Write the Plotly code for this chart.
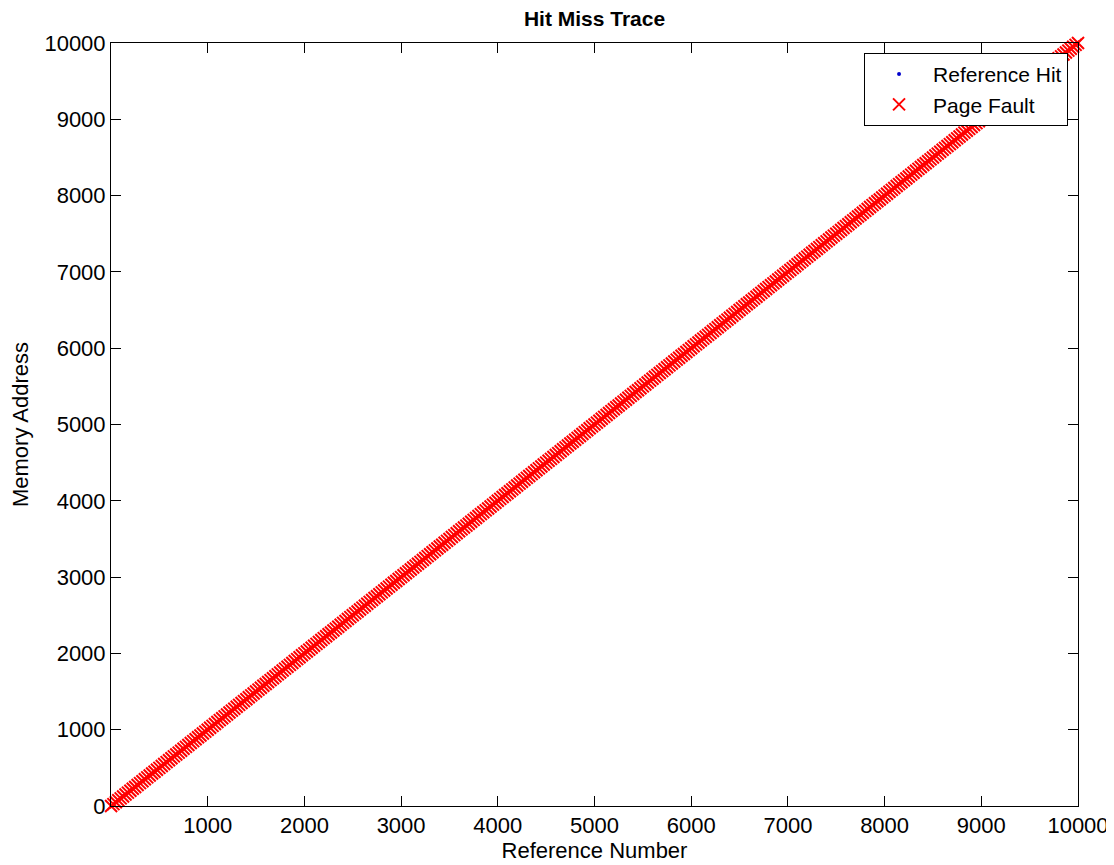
import plotly.graph_objects as go

# Page-fault trace: reference number vs memory address
fault_ref = [
    1, 25, 50, 75, 100, 125, 150, 175, 200, 225, 250, 275, 300, 325, 350, 375, 400, 425, 450, 475,
    500, 525, 550, 575, 600, 625, 650, 675, 700, 725, 750, 775, 800, 825, 850, 875, 900, 925, 950, 975,
    1000, 1025, 1050, 1075, 1100, 1125, 1150, 1175, 1200, 1225, 1250, 1275, 1300, 1325, 1350, 1375, 1400, 1425, 1450, 1475,
    1500, 1525, 1550, 1575, 1600, 1625, 1650, 1675, 1700, 1725, 1750, 1775, 1800, 1825, 1850, 1875, 1900, 1925, 1950, 1975,
    2000, 2025, 2050, 2075, 2100, 2125, 2150, 2175, 2200, 2225, 2250, 2275, 2300, 2325, 2350, 2375, 2400, 2425, 2450, 2475,
    2500, 2525, 2550, 2575, 2600, 2625, 2650, 2675, 2700, 2725, 2750, 2775, 2800, 2825, 2850, 2875, 2900, 2925, 2950, 2975,
    3000, 3025, 3050, 3075, 3100, 3125, 3150, 3175, 3200, 3225, 3250, 3275, 3300, 3325, 3350, 3375, 3400, 3425, 3450, 3475,
    3500, 3525, 3550, 3575, 3600, 3625, 3650, 3675, 3700, 3725, 3750, 3775, 3800, 3825, 3850, 3875, 3900, 3925, 3950, 3975,
    4000, 4025, 4050, 4075, 4100, 4125, 4150, 4175, 4200, 4225, 4250, 4275, 4300, 4325, 4350, 4375, 4400, 4425, 4450, 4475,
    4500, 4525, 4550, 4575, 4600, 4625, 4650, 4675, 4700, 4725, 4750, 4775, 4800, 4825, 4850, 4875, 4900, 4925, 4950, 4975,
    5000, 5025, 5050, 5075, 5100, 5125, 5150, 5175, 5200, 5225, 5250, 5275, 5300, 5325, 5350, 5375, 5400, 5425, 5450, 5475,
    5500, 5525, 5550, 5575, 5600, 5625, 5650, 5675, 5700, 5725, 5750, 5775, 5800, 5825, 5850, 5875, 5900, 5925, 5950, 5975,
    6000, 6025, 6050, 6075, 6100, 6125, 6150, 6175, 6200, 6225, 6250, 6275, 6300, 6325, 6350, 6375, 6400, 6425, 6450, 6475,
    6500, 6525, 6550, 6575, 6600, 6625, 6650, 6675, 6700, 6725, 6750, 6775, 6800, 6825, 6850, 6875, 6900, 6925, 6950, 6975,
    7000, 7025, 7050, 7075, 7100, 7125, 7150, 7175, 7200, 7225, 7250, 7275, 7300, 7325, 7350, 7375, 7400, 7425, 7450, 7475,
    7500, 7525, 7550, 7575, 7600, 7625, 7650, 7675, 7700, 7725, 7750, 7775, 7800, 7825, 7850, 7875, 7900, 7925, 7950, 7975,
    8000, 8025, 8050, 8075, 8100, 8125, 8150, 8175, 8200, 8225, 8250, 8275, 8300, 8325, 8350, 8375, 8400, 8425, 8450, 8475,
    8500, 8525, 8550, 8575, 8600, 8625, 8650, 8675, 8700, 8725, 8750, 8775, 8800, 8825, 8850, 8875, 8900, 8925, 8950, 8975,
    9000, 9025, 9050, 9075, 9100, 9125, 9150, 9175, 9200, 9225, 9250, 9275, 9300, 9325, 9350, 9375, 9400, 9425, 9450, 9475,
    9500, 9525, 9550, 9575, 9600, 9625, 9650, 9675, 9700, 9725, 9750, 9775, 9800, 9825, 9850, 9875, 9900, 9925, 9950, 9975,
    10000,
]
fault_addr = [
    1, 25, 50, 75, 100, 125, 150, 175, 200, 225, 250, 275, 300, 325, 350, 375, 400, 425, 450, 475,
    500, 525, 550, 575, 600, 625, 650, 675, 700, 725, 750, 775, 800, 825, 850, 875, 900, 925, 950, 975,
    1000, 1025, 1050, 1075, 1100, 1125, 1150, 1175, 1200, 1225, 1250, 1275, 1300, 1325, 1350, 1375, 1400, 1425, 1450, 1475,
    1500, 1525, 1550, 1575, 1600, 1625, 1650, 1675, 1700, 1725, 1750, 1775, 1800, 1825, 1850, 1875, 1900, 1925, 1950, 1975,
    2000, 2025, 2050, 2075, 2100, 2125, 2150, 2175, 2200, 2225, 2250, 2275, 2300, 2325, 2350, 2375, 2400, 2425, 2450, 2475,
    2500, 2525, 2550, 2575, 2600, 2625, 2650, 2675, 2700, 2725, 2750, 2775, 2800, 2825, 2850, 2875, 2900, 2925, 2950, 2975,
    3000, 3025, 3050, 3075, 3100, 3125, 3150, 3175, 3200, 3225, 3250, 3275, 3300, 3325, 3350, 3375, 3400, 3425, 3450, 3475,
    3500, 3525, 3550, 3575, 3600, 3625, 3650, 3675, 3700, 3725, 3750, 3775, 3800, 3825, 3850, 3875, 3900, 3925, 3950, 3975,
    4000, 4025, 4050, 4075, 4100, 4125, 4150, 4175, 4200, 4225, 4250, 4275, 4300, 4325, 4350, 4375, 4400, 4425, 4450, 4475,
    4500, 4525, 4550, 4575, 4600, 4625, 4650, 4675, 4700, 4725, 4750, 4775, 4800, 4825, 4850, 4875, 4900, 4925, 4950, 4975,
    5000, 5025, 5050, 5075, 5100, 5125, 5150, 5175, 5200, 5225, 5250, 5275, 5300, 5325, 5350, 5375, 5400, 5425, 5450, 5475,
    5500, 5525, 5550, 5575, 5600, 5625, 5650, 5675, 5700, 5725, 5750, 5775, 5800, 5825, 5850, 5875, 5900, 5925, 5950, 5975,
    6000, 6025, 6050, 6075, 6100, 6125, 6150, 6175, 6200, 6225, 6250, 6275, 6300, 6325, 6350, 6375, 6400, 6425, 6450, 6475,
    6500, 6525, 6550, 6575, 6600, 6625, 6650, 6675, 6700, 6725, 6750, 6775, 6800, 6825, 6850, 6875, 6900, 6925, 6950, 6975,
    7000, 7025, 7050, 7075, 7100, 7125, 7150, 7175, 7200, 7225, 7250, 7275, 7300, 7325, 7350, 7375, 7400, 7425, 7450, 7475,
    7500, 7525, 7550, 7575, 7600, 7625, 7650, 7675, 7700, 7725, 7750, 7775, 7800, 7825, 7850, 7875, 7900, 7925, 7950, 7975,
    8000, 8025, 8050, 8075, 8100, 8125, 8150, 8175, 8200, 8225, 8250, 8275, 8300, 8325, 8350, 8375, 8400, 8425, 8450, 8475,
    8500, 8525, 8550, 8575, 8600, 8625, 8650, 8675, 8700, 8725, 8750, 8775, 8800, 8825, 8850, 8875, 8900, 8925, 8950, 8975,
    9000, 9025, 9050, 9075, 9100, 9125, 9150, 9175, 9200, 9225, 9250, 9275, 9300, 9325, 9350, 9375, 9400, 9425, 9450, 9475,
    9500, 9525, 9550, 9575, 9600, 9625, 9650, 9675, 9700, 9725, 9750, 9775, 9800, 9825, 9850, 9875, 9900, 9925, 9950, 9975,
    10000,
]
# Reference hits (sparse blue dots, mostly hidden inside the band)
hit_ref = [130, 880, 1630, 2380, 3130, 3880, 4630, 5380, 6130, 6880, 7630, 8380, 9130, 9880, 9990]
hit_addr = [130, 880, 1630, 2380, 3130, 3880, 4630, 5380, 6130, 6880, 7630, 8380, 9130, 9880, 9990]

x_ticks = [1000, 2000, 3000, 4000, 5000, 6000, 7000, 8000, 9000, 10000]
y_ticks = [0, 1000, 2000, 3000, 4000, 5000, 6000, 7000, 8000, 9000, 10000]

FONT = "Liberation Sans, Arial, sans-serif"

fig = go.Figure()
fig.add_trace(go.Scatter(
    x=hit_ref, y=hit_addr, mode="markers", name="Reference Hit",
    marker=dict(symbol="circle", size=4, color="#0000cc"),
    cliponaxis=False,
))
fig.add_trace(go.Scatter(
    x=fault_ref, y=fault_addr, mode="markers", name="Page Fault",
    marker=dict(symbol="x-thin-open", size=12, color="#ff0000",
                line=dict(color="#ff0000", width=2)),
    cliponaxis=False,
))

axis_common = dict(
    showgrid=False, zeroline=False, showline=True, linecolor="black", linewidth=1,
    mirror="ticks", ticks="inside", ticklen=10, tickcolor="black", tickwidth=1,
    tickfont=dict(family=FONT, size=22, color="black"),
)
fig.update_layout(
    width=1114, height=865,
    margin=dict(l=103, r=44, t=35, b=67),
    paper_bgcolor="white", plot_bgcolor="white",
    title=dict(text="<b>Hit Miss Trace</b>", xref="paper", x=0.5, xanchor="center",
               yref="container", y=0.988, yanchor="middle",
               font=dict(family=FONT, size=21, color="black")),
    xaxis=dict(range=[0, 10000], tickvals=x_ticks, ticktext=[str(v) for v in x_ticks],
               title=dict(text="Reference Number", font=dict(family=FONT, size=22, color="black"), standoff=2),
               **axis_common),
    yaxis=dict(range=[0, 10000], tickvals=y_ticks, ticktext=[str(v) for v in y_ticks],
               title=dict(text="Memory Address", font=dict(family=FONT, size=22, color="black"), standoff=10),
               **axis_common),
    legend=dict(x=0.9897, y=0.987, xanchor="right", yanchor="top",
                bgcolor="white", bordercolor="black", borderwidth=1,
                font=dict(family=FONT, size=21, color="black"),
                itemsizing="trace", itemwidth=58, tracegroupgap=0),
    showlegend=True,
)
fig.write_html("out.html")
